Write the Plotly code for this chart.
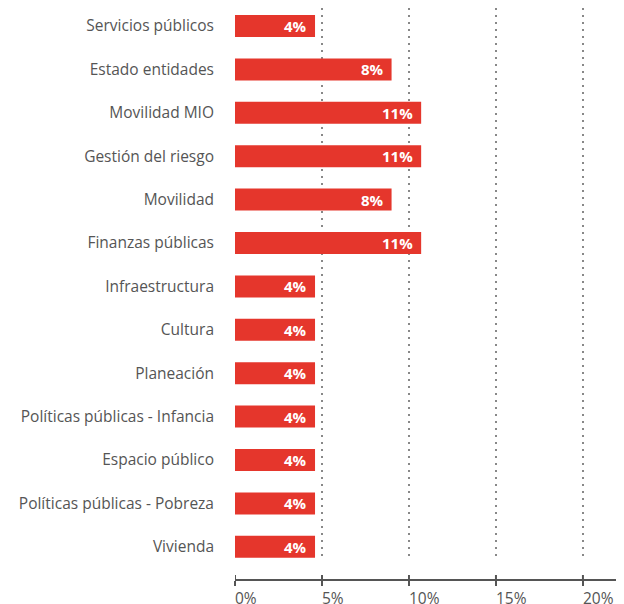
import plotly.graph_objects as go

categories = ["Servicios públicos", "Estado entidades", "Movilidad MIO", "Gestión del riesgo",
              "Movilidad", "Finanzas públicas", "Infraestructura", "Cultura", "Planeación",
              "Políticas públicas - Infancia", "Espacio público", "Políticas públicas - Pobreza", "Vivienda"]
values = [4.6, 9.0, 10.7, 10.7, 9.0, 10.7, 4.6, 4.6, 4.6, 4.6, 4.6, 4.6, 4.6]
bar_labels = ["4%", "8%", "11%", "11%", "8%", "11%", "4%", "4%", "4%", "4%", "4%", "4%", "4%"]
tick_vals = [0, 5, 10, 15, 20]
tick_text = ["0%", "5%", "10%", "15%", "20%"]

FONT = "Open Sans, sans-serif"
RED = "#e5362c"
GREY = "#555555"

# page body has an 8px margin, so the figure is sized to the visible area
fig = go.Figure(go.Bar(
    y=categories, x=values, orientation="h",
    marker=dict(color=RED, line=dict(width=0)),
    textposition="none",
    hoverinfo="skip",
))

for c, v, t in zip(categories, values, bar_labels):
    fig.add_annotation(x=v, y=c, xref="x", yref="y", text=t, showarrow=False,
                       xanchor="right", yanchor="middle", xshift=-6,
                       font=dict(size=15, color="white", family=FONT, weight="bold"))

fig.update_layout(
    width=616, height=596,
    margin=dict(l=227, r=0, t=0, b=24, autoexpand=False),
    paper_bgcolor="white", plot_bgcolor="white",
    bargap=0.493, showlegend=False,
    font=dict(family=FONT, color=GREY),
)
fig.update_yaxes(
    range=[12.258, -0.415], domain=[0.0385, 1], automargin=False,
    showgrid=False, zeroline=False, showline=False,
    ticks="", ticklabelstandoff=20,
    tickfont=dict(size=15.5, color=GREY, family=FONT),
)
fig.update_xaxes(
    range=[0, 22.36], anchor="free", position=0, automargin=False,
    tickvals=tick_vals, showticklabels=False,
    showgrid=True, gridcolor="#888888", griddash="2px,5px", gridwidth=2,
    zeroline=False,
    showline=True, linecolor=GREY, linewidth=2,
    ticks="outside", ticklen=5, tickwidth=2, tickcolor=GREY,
)
for v, t in zip(tick_vals, tick_text):
    fig.add_shape(type="line", xref="x", yref="paper", ysizemode="pixel", yanchor=0,
                  x0=v, x1=v, y0=0, y1=5, line=dict(color=GREY, width=2))
    fig.add_annotation(x=v, xref="x", y=0, yref="paper", text=t, showarrow=False,
                       xanchor="left", yanchor="top", xshift=-2, yshift=-5,
                       font=dict(size=15.5, color=GREY, family=FONT))

fig.write_html("out.html")
